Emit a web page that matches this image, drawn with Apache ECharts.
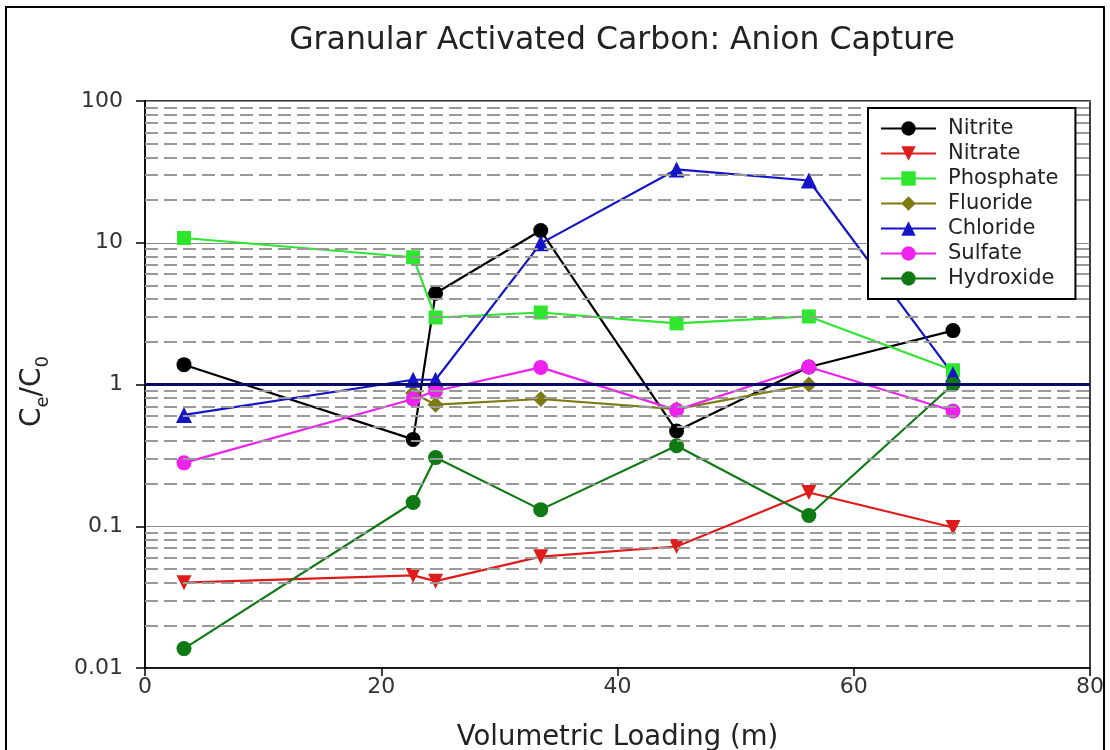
<!DOCTYPE html>
<html>
<head>
<meta charset="utf-8">
<script src="https://cdn.jsdelivr.net/npm/echarts@6/dist/echarts.min.js"></script>
<style>
html,body{margin:0;padding:0;background:#fff;}
#chart{width:1110px;height:750px;}
</style>
</head>
<body>
<div id="chart"></div>
<script>
// ---- data ----
const loading = [3.3, 22.7, 24.6, 33.5, 45.0, 56.2, 68.4];
const nitrite   = [1.38, 0.41, 4.4, 12.2, 0.47, 1.33, 2.4];
const nitrate   = [0.040, 0.045, 0.041, 0.061, 0.072, 0.173, 0.098];
const phosphate = [10.8, 7.9, 2.97, 3.22, 2.7, 3.02, 1.26];
const fluoride  = [null, 0.87, 0.72, 0.79, 0.67, 1.0, 1.0];
const chloride  = [0.61, 1.08, 1.08, 9.9, 32.9, 27.5, 1.18];
const sulfate   = [0.28, 0.79, 0.90, 1.32, 0.66, 1.33, 0.65];
const hydroxide = [0.0137, 0.147, 0.305, 0.131, 0.37, 0.119, 1.0];
const seriesNames = ['Nitrite','Nitrate','Phosphate','Fluoride','Chloride','Sulfate','Hydroxide'];
const yTicks = [0.01, 0.1, 1, 10, 100];
const minorGrid = [0.02,0.03,0.04,0.05,0.06,0.07,0.08,0.09,
                   0.2,0.3,0.4,0.5,0.6,0.7,0.8,0.9,
                   2,3,4,5,6,7,8,9,
                   20,30,40,50,60,70,80,90];
const refLine = 1;

const FONT = 'DejaVu Sans';
const chart = echarts.init(document.getElementById('chart'));

function pairs(vals){
  const out = [];
  vals.forEach((v,i)=>{ if(v!==null) out.push([loading[i], v]); });
  return out;
}

const styles = {
  Nitrite:   {color:'#000000', symbol:'circle',   size:15},
  Nitrate:   {color:'#e01b1b', symbol:'triangle', size:15, rotate:180},
  Phosphate: {color:'#2ee62e', symbol:'rect',     size:14},
  Fluoride:  {color:'#7d7a10', symbol:'diamond',  size:16},
  Chloride:  {color:'#1515c8', symbol:'triangle', size:16},
  Sulfate:   {color:'#ee22ee', symbol:'circle',   size:15},
  Hydroxide: {color:'#0f7a14', symbol:'circle',   size:15}
};
const dataMap = {Nitrite:nitrite, Nitrate:nitrate, Phosphate:phosphate, Fluoride:fluoride,
                 Chloride:chloride, Sulfate:sulfate, Hydroxide:hydroxide};

const series = [{
  name:'grid',
  type:'line',
  data:[],
  z:1,
  silent:true,
  markLine:{
    silent:true,
    symbol:['none','none'],
    label:{show:false},
    animation:false,
    data: minorGrid.map(v=>({yAxis:v, lineStyle:{color:'#999999', width:1.8, type:[13,6]}}))
          .concat([{yAxis:refLine, lineStyle:{color:'#0a0a6e', width:3, type:'solid'}}])
  }
}];
seriesNames.forEach(n=>{
  const s = styles[n];
  series.push({
    name:n,
    type:'line',
    data:pairs(dataMap[n]),
    symbol:s.symbol,
    symbolSize:s.size,
    symbolRotate:s.rotate||0,
    showAllSymbol:true,
    z:3,
    lineStyle:{color:s.color, width:2.2},
    itemStyle:{color:s.color},
    emphasis:{disabled:true},
    animation:false
  });
});

chart.setOption({
  animation:false,
  backgroundColor:'#fff',
  title:{
    text:'Granular Activated Carbon: Anion Capture',
    left:617, textAlign:'center', top:20,
    textStyle:{fontFamily:FONT, fontSize:31.5, fontWeight:'normal', color:'#222'}
  },
  graphic:[{
    type:'rect', silent:true, z:-1,
    shape:{x:6, y:7, width:1098, height:800},
    style:{fill:'none', stroke:'#000', lineWidth:2}
  }],
  legend:{
    data:seriesNames,
    orient:'vertical',
    left:868, top:108,
    padding:[10,17,10,12],
    itemGap:4,
    itemWidth:55,
    itemHeight:18,
    backgroundColor:'#fff',
    borderColor:'#000',
    borderWidth:2,
    borderRadius:0,
    z:10,
    textStyle:{fontFamily:FONT, fontSize:21, color:'#222', padding:[0,0,0,7]}
  },
  grid:{
    left:145, right:20, top:101, bottom:82,
    containLabel:false, outerBoundsMode:'none',
    show:true, borderColor:'#000', borderWidth:1.5, backgroundColor:'transparent'
  },
  xAxis:{
    type:'value', min:0, max:80, interval:20,
    name:'Volumetric Loading (m)', nameLocation:'middle', nameGap:56,
    nameTextStyle:{fontFamily:FONT, fontSize:27.5, color:'#222'},
    axisLine:{show:true, onZero:false, lineStyle:{color:'#000', width:1.5}},
    axisTick:{show:true, inside:false, length:8, lineStyle:{color:'#000', width:1.5}},
    axisLabel:{fontFamily:FONT, fontSize:22, color:'#333', margin:8},
    splitLine:{show:false}
  },
  yAxis:{
    type:'log', logBase:10, min:yTicks[0], max:yTicks[yTicks.length-1],
    name:'{m|C}{s|e}{m|/C}{s|0}', nameLocation:'middle', nameGap:93, nameRotate:90,
    nameTextStyle:{
      fontFamily:FONT, color:'#222', padding:[0,14,0,0],
      rich:{
        m:{fontFamily:FONT, fontSize:28, color:'#222', lineHeight:38, verticalAlign:'middle'},
        s:{fontFamily:FONT, fontSize:18, color:'#222', lineHeight:38, verticalAlign:'bottom', padding:[16,0,0,0]}
      }
    },
    axisLine:{show:true, lineStyle:{color:'#000', width:1.5}},
    axisTick:{show:true, inside:false, length:9, lineStyle:{color:'#000', width:1.5}},
    axisLabel:{fontFamily:FONT, fontSize:22, color:'#333', margin:22,
      formatter:v=>String(+Number(v).toPrecision(3))},
    splitLine:{show:true, lineStyle:{color:'#8a8a8a', width:1.2}},
    minorTick:{show:false},
    minorSplitLine:{show:false}
  },
  series:series
});
</script>
</body>
</html>
